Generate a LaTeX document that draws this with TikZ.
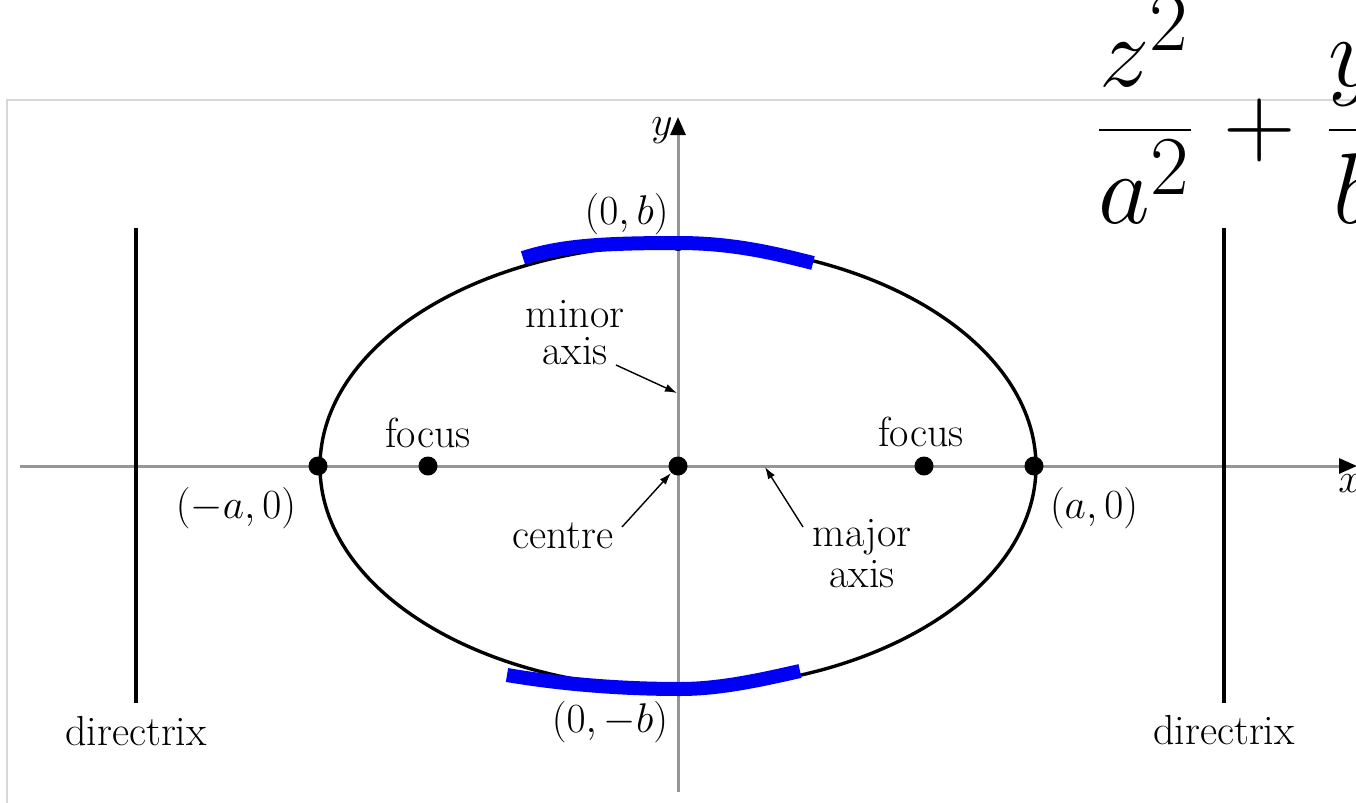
\documentclass[tikz,border=0pt]{standalone}
\usetikzlibrary{arrows.meta}
\definecolor{axisgray}{RGB}{150,150,150}
\definecolor{framegray}{RGB}{215,215,215}
\definecolor{penblue}{RGB}{0,0,245}
\begin{document}
\begin{tikzpicture}[x=0.5pt,y=-0.5pt,
  lbl/.style={font=\fontsize{21}{24}\selectfont, inner sep=0pt},
  twoline/.style={inner sep=0pt, align=center},
  axisline/.style={draw=axisgray, line width=1.5pt},
  axistip/.style={-{Triangle[length=9pt,width=7.5pt,black]}},
  bigdot/.style={circle, fill=black, inner sep=0pt, minimum size=9.5pt},
  smalldot/.style={circle, fill=black, inner sep=0pt, minimum size=6.5pt},
  curve/.style={draw=black, line width=1.7pt},
  dirline/.style={draw=black, line width=2pt},
  pointer/.style={draw=black, line width=0.7pt, -{Latex[length=6pt,width=4pt]}},
  pen/.style={draw=penblue, line width=7pt, line cap=butt, line join=round},
]
\useasboundingbox (0,0) rectangle (1356,803);
\clip (0,0) rectangle (1356,803);

% frame
\coordinate (fb) at (7,803);
\coordinate (fc) at (7,100);
\coordinate (fr) at (1357,100);
\draw[framegray, line width=0.6pt] (fb) -- (fc) -- (fr);

% axes
\coordinate (xl) at (20,466);
\coordinate (xr) at (1357,466);
\draw[axisline, axistip] (xl) -- (xr);
\coordinate (yb) at (678,792);
\coordinate (yt) at (678,117);
\draw[axisline, axistip] (yb) -- (yt);
\node[lbl, anchor=base east] (ylab) at (673,135) {$y$};
\node[lbl, anchor=base west] (xlab) at (1338,492) {$x$};

% directrices
\coordinate (dlt) at (136,228);
\coordinate (dlb) at (136,703);
\coordinate (drt) at (1224,228);
\coordinate (drb) at (1224,703);
\draw[dirline] (dlt) -- (dlb);
\draw[dirline] (drt) -- (drb);
\node[lbl, anchor=base] (dirl) at (136,745) {directrix};
\node[lbl, anchor=base] (dirr) at (1224,744) {directrix};

% ellipse
\draw[curve] (678,466.5) ellipse [x radius=358, y radius=222];

% points
\node[bigdot] (lv) at (318,466) {};
\node[bigdot] (lf) at (428,466) {};
\node[bigdot] (c) at (678,466) {};
\node[bigdot] (rf) at (924,466) {};
\node[bigdot] (rv) at (1034,466) {};
\node[smalldot] (tv) at (678,244.5) {};
\node[smalldot] (bv) at (678,688.5) {};

% labels
\node[lbl, anchor=base] (flab1) at (428,447) {focus};
\node[lbl, anchor=base] (flab2) at (921,446) {focus};
\node[lbl, anchor=base] (lvlab) at (236,518) {$(-a,0)$};
\node[lbl, anchor=base] (rvlab) at (1094,518) {$(a,0)$};
\node[lbl, anchor=base east] (tvlab) at (669,224) {$(0,b)$};
\node[lbl, anchor=base] (bvlab) at (610,732) {$(0,-b)$};
\node[lbl, anchor=base] (cenlab) at (563,548) {centre};
\node[twoline, anchor=south, font=\fontsize{21}{18.5}\selectfont] (minlab) at (575,365) {minor\\axis};
\node[twoline, anchor=south, font=\fontsize{21}{20.5}\selectfont] (majlab) at (862,588) {major\\axis};

% pointers
\coordinate (mins) at (616,365);
\coordinate (minpt) at (677,393);
\draw[pointer] (mins) -- (minpt);
\coordinate (cens) at (622,527);
\draw[pointer] (cens) -- (c.south west);
\coordinate (majs) at (803,527);
\coordinate (majpt) at (765,467);
\draw[pointer] (majs) -- (majpt);

% blue pen strokes
\draw[pen] (523,258) .. controls (560,246) and (600,243) .. (678,243)
           .. controls (730,243) and (770,252) .. (813,263);
\draw[pen] (507,675) .. controls (560,684) and (620,689) .. (680,689)
           .. controls (720,689) and (760,680) .. (800,671);

% formula
\node[anchor=base west, inner sep=0pt, scale=2.02, font=\fontsize{24.88}{28}\selectfont] (eq) at (1093,155)
  {$\displaystyle\frac{z^2}{a^2}\mkern1mu+\mkern1mu\frac{y^2}{b^2}$};
\end{tikzpicture}
\end{document}
